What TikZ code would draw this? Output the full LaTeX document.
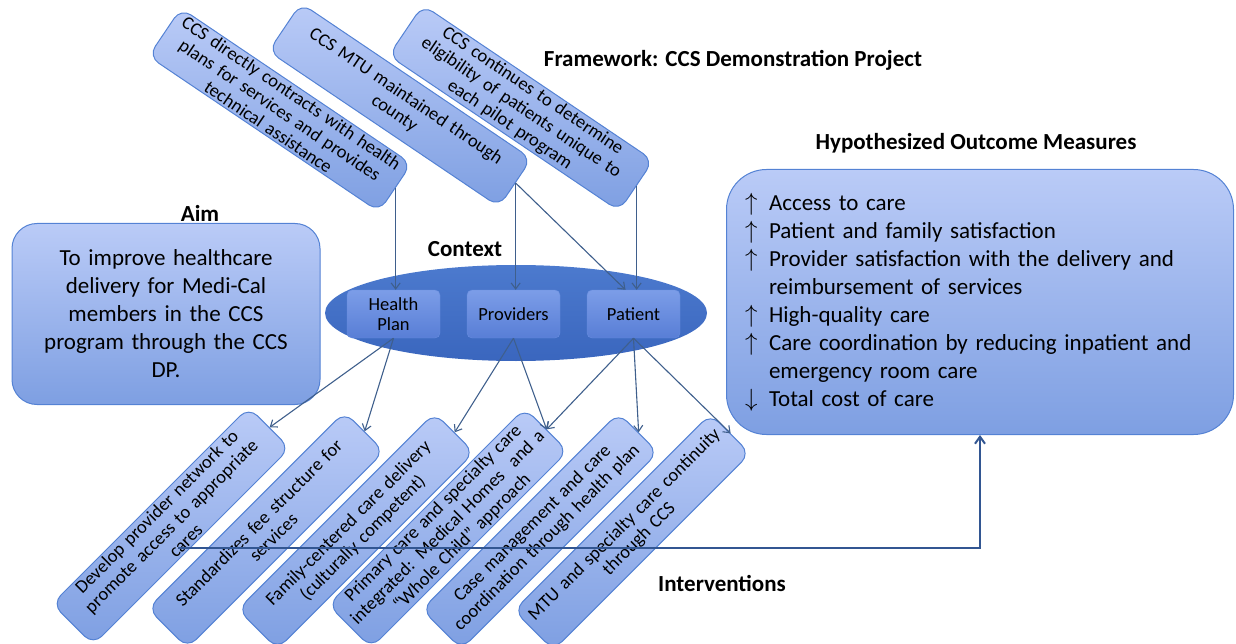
\documentclass[tikz,border=0pt]{standalone}
\usepackage{fontspec}
\setmainfont{Carlito}
\usetikzlibrary{shapes.geometric,arrows.meta}
\definecolor{boxtop}{RGB}{186,203,247}
\definecolor{boxbot}{RGB}{126,159,226}
\definecolor{boxline}{RGB}{84,130,212}
\definecolor{elltop}{RGB}{76,122,206}
\definecolor{ellbot}{RGB}{58,102,190}
\definecolor{ctxtop}{RGB}{124,157,232}
\definecolor{ctxbot}{RGB}{88,126,214}
\definecolor{ctxline}{RGB}{104,142,222}
\definecolor{arrcol}{RGB}{63,95,140}
\definecolor{linecol}{RGB}{50,86,146}
\newcommand{\upar}{\makebox[24pt][l]{$\uparrow$}}
\newcommand{\dnar}{\makebox[24pt][l]{$\downarrow$}}
\begin{document}
\begin{tikzpicture}[x=1pt, y=-1pt,
  every node/.style={font=\fontsize{18.5}{20.5}\selectfont},
  hdr/.style={font=\fontsize{23}{27}\selectfont\bfseries},
  blk/.style={draw=boxline, line width=1pt, top color=boxtop, bottom color=boxbot, align=center},
  tbox/.style={blk, rounded corners=12pt, rotate=-34, minimum width=278pt, minimum height=58pt, text width=266pt, inner sep=2pt},
  ivbox/.style={blk, rounded corners=12pt, rotate=45, minimum width=278pt, minimum height=56pt, text width=266pt, inner sep=2pt},
  ctbox/.style={draw=ctxline, top color=ctxtop, bottom color=ctxbot, rounded corners=5pt, minimum width=93pt, minimum height=48pt, align=center, inner sep=1pt},
  arr/.style={-{Straight Barb[length=6pt,width=9pt]}, draw=arrcol, line width=1.1pt}]
  \useasboundingbox (0,0) rectangle (1236,644);
  \node[hdr] (ttl) at (733,60) {Framework: CCS Demonstration Project};
  \node[hdr] (hyp) at (976,143) {Hypothesized Outcome Measures};
  \node[hdr] (aimlbl) at (200,213) {Aim};
  \node[hdr] (ctxlbl) at (465,249) {Context};
  \node[hdr] (ivlbl) at (722,583) {Interventions};
  \node[blk, rounded corners=25pt, minimum width=308pt, minimum height=181pt, text width=280pt, font=\fontsize{23}{28}\selectfont] (aim) at (166,314)
    {To improve healthcare\\ delivery for Medi-Cal\\ members in the CCS\\ program through the CCS\\ DP.};
  \node[blk, rounded corners=40pt, minimum width=507pt, minimum height=265pt, text width=470pt, align=left, font=\fontsize{23}{28}\selectfont] (out) at (980,302)
    {\upar Access to care\\ \upar Patient and family satisfaction\\ \upar Provider satisfaction with the delivery and\\ \hspace*{24pt}reimbursement of services\\ \upar High-quality care\\ \upar Care coordination by reducing inpatient and\\ \hspace*{24pt}emergency room care\\ \dnar Total cost of care};
  \node[tbox] (t1) at (280,110) {CCS directly contracts with health\\ plans for services and provides\\ technical assistance};
  \node[tbox] (t2) at (400,105) {CCS MTU maintained through\\ county};
  \node[tbox] (t3) at (521,108) {CCS continues to determine\\ eligibility of patients unique to\\ each pilot program};
  \node[ellipse, top color=elltop, bottom color=ellbot, minimum width=382pt, minimum height=96pt] (ell) at (516,313) {};
  \node[ctbox] (hp) at (393.5,314) {Health\\ Plan};
  \node[ctbox] (pv) at (513.5,314) {Providers};
  \node[ctbox] (pt) at (633.5,314) {Patient};
  \node[ivbox] (b1) at (171,526) {Develop provider network to\\ promote access to appropriate\\ cares};
  \node[ivbox] (b2) at (266,530) {Standardizes fee structure for\\ services};
  \node[ivbox] (b3) at (356,531) {Family-centered care delivery\\ (culturally competent)};
  \node[ivbox] (b4) at (448,528) {Primary care and specialty care\\ integrated: Medical Homes~ and a\\ ``Whole Child'' approach};
  \node[ivbox] (b5) at (540,531) {Case management and care\\ coordination through health plan};
  \node[ivbox] (b6) at (632,532) {MTU and specialty care continuity\\ through CCS};
  \draw[arr] (t1.east) -- (t1.east |- hp.north);
  \draw[arr] (t2.east) -- (t2.east |- pv.north);
  \draw[arr] (t2.east) -- ([xshift=-8pt]pt.north);
  \draw[arr] (t3.east) -- (t3.east |- pt.north);
  \draw[arr] (hp.south) -- (b1.east);
  \draw[arr] (hp.south) -- (b2.east);
  \draw[arr] (pv.south) -- (b3.east);
  \draw[arr] (pv.south) -- (b4.east);
  \draw[arr] (pt.south) -- (b4.east);
  \draw[arr] (pt.south) -- (b5.east);
  \draw[arr] (pt.south) -- (b6.east);
  \coordinate (lnst) at (178,548);
  \draw[-{Straight Barb[length=7pt,width=10pt]}, draw=linecol, line width=2pt] (lnst) -| (out.south);
\end{tikzpicture}
\end{document}
